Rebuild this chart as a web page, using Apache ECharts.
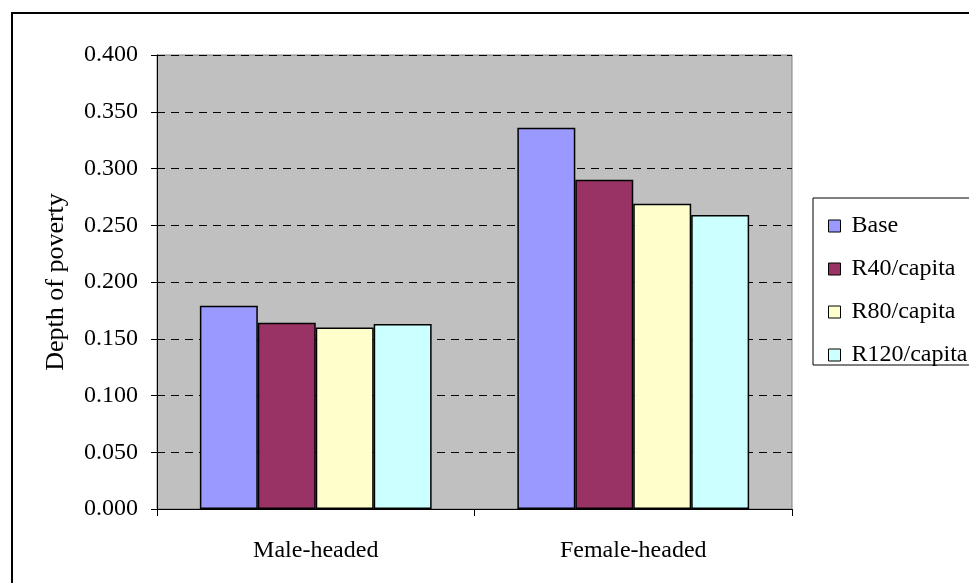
<!DOCTYPE html>
<html>
<head>
<meta charset="utf-8">
<script src="https://cdn.jsdelivr.net/npm/echarts@6/dist/echarts.min.js"></script>
<style>
  html, body { margin: 0; padding: 0; background: #ffffff; }
  #chart { width: 969px; height: 583px; }
</style>
</head>
<body>
<div id="chart"></div>
<script>
// Depth of poverty by household head, under base and grant scenarios
const categories = ['Male-headed', 'Female-headed'];
const seriesNames = ['Base', 'R40/capita', 'R80/capita', 'R120/capita'];
const baseValues = [0.179, 0.336];
const r40Values = [0.164, 0.290];
const r80Values = [0.160, 0.269];
const r120Values = [0.163, 0.259];
const yTicks = { min: 0, max: 0.4, interval: 0.05 };

const seriesData = [baseValues, r40Values, r80Values, r120Values];
const colors = ['#9999FF', '#993366', '#FFFFCC', '#CCFFFF'];
const font = 'Liberation Serif';
const fontSize = 24;

const chart = echarts.init(document.getElementById('chart'), null, { renderer: 'canvas' });

chart.setOption({
  animation: false,
  backgroundColor: '#ffffff',
  grid: {
    left: 157, right: 177, top: 55, bottom: 74,
    show: true,
    backgroundColor: '#C0C0C0',
    borderColor: '#808080',
    borderWidth: 1
  },
  legend: {
    data: seriesNames,
    orient: 'vertical',
    left: 823,
    top: 209,
    itemWidth: 12,
    itemHeight: 12,
    itemGap: 19,
    icon: 'rect',
    selectedMode: false,
    itemStyle: { borderColor: '#000000', borderWidth: 1 },
    textStyle: { fontFamily: font, fontSize: fontSize, lineHeight: 24, color: '#000000', padding: [0, 0, 0, 6] }
  },
  xAxis: {
    type: 'category',
    data: categories,
    axisLine: { lineStyle: { color: '#000000', width: 1 } },
    axisTick: { show: true, length: 7, inside: false, lineStyle: { color: '#000000' } },
    axisLabel: { fontFamily: font, fontSize: fontSize, color: '#000000', margin: 30 },
    splitLine: { show: false }
  },
  yAxis: {
    type: 'value',
    min: yTicks.min,
    max: yTicks.max,
    interval: yTicks.interval,
    name: 'Depth of poverty',
    nameLocation: 'middle',
    nameGap: 88,
    nameTextStyle: { fontFamily: font, fontSize: 26, color: '#000000' },
    axisLine: { show: true, lineStyle: { color: '#000000', width: 1 } },
    axisTick: { show: true, length: 6, lineStyle: { color: '#000000' } },
    axisLabel: {
      fontFamily: font, fontSize: fontSize, color: '#000000', margin: 19,
      formatter: v => v.toFixed(3)
    },
    splitLine: { show: true, lineStyle: { color: '#000000', type: [8, 6], width: 1 } }
  },
  series: seriesNames.map((name, i) => ({
    name: name,
    type: 'bar',
    data: seriesData[i],
    barGap: '0%',
    barCategoryGap: '27%',
    itemStyle: { color: colors[i], borderColor: '#000000', borderWidth: 1.5 }
  })),
  graphic: [
    {
      type: 'rect',
      silent: true,
      shape: { x: 813, y: 198, width: 200, height: 167 },
      style: { fill: 'none', stroke: '#000000', lineWidth: 1 },
      z: 100
    },
    {
      type: 'rect',
      silent: true,
      shape: { x: 12, y: 13, width: 1000, height: 1000 },
      style: { fill: 'none', stroke: '#000000', lineWidth: 2 },
      z: 100
    }
  ]
});
</script>
</body>
</html>
